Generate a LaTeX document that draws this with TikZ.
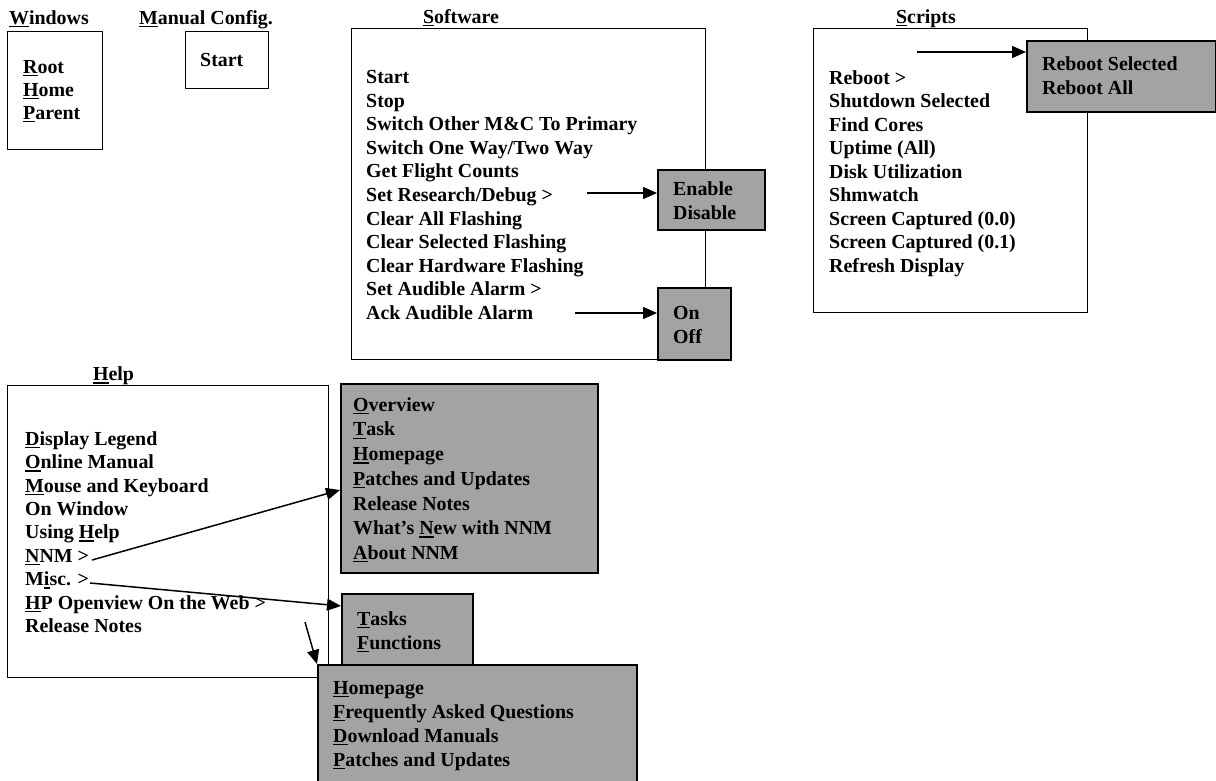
\documentclass[tikz,border=0pt]{standalone}
\usepackage{fontspec}
\setmainfont{Liberation Serif}
\usetikzlibrary{arrows.meta}
\usetikzlibrary{positioning}
\newcommand{\hotkey}[1]{\sbox0{#1}\rlap{\rule[-3pt]{\wd0}{1.4pt}}\usebox0}
\tikzset{
	menu/.style={
		draw,
		rectangle,
		line width=1.4pt,
		anchor=north west,
		inner sep=0pt,
		fill=white
	},
	submenu/.style={
		menu,
		fill=black!36,
		line width=2pt
	},
	entries/.style={
		anchor=north west,
		inner sep=0pt,
		align=left,
		font=\fontsize{19.9}{#1}\selectfont\bfseries
	},
	entries/.default=23.5,
	heading/.style={
		anchor=base,
		inner sep=0pt,
		font=\fontsize{19.9}{23.5}\selectfont\bfseries
	},
	pointer/.style={
		line width=1.5pt,
		-{Triangle[length=14pt,width=12pt]}
	},
}

\begin{document}
\begin{tikzpicture}[x=1pt,y=-1pt]
\useasboundingbox (0,0) rectangle (1216,781);
\clip (0,0) rectangle (1216,781);
% windows
\node[heading] (wintitle) at (49,24.5) {\hotkey{W}indows};
\node[menu, minimum width=95pt, minimum height=118pt] (winbox) at (7,31) {};
\node[entries=23] (winlist) at (23,60.2) {\hotkey{R}oot\\ \hotkey{H}ome\\ \hotkey{P}arent};
% manual config
\node[heading] (mantitle) at (206,24.5) {\hotkey{M}anual Config.};
\node[menu, minimum width=83pt, minimum height=57pt] (manbox) at (185,31) {};
\node[entries] (manlist) at (200,53.2) {Start};
% software
\node[heading] (softtitle) at (461,23.5) {\hotkey{S}oftware};
\node[menu, minimum width=354pt, minimum height=331pt] (softbox) at (351,28) {};
\node[entries=23.6] (softlist) at (366,70.2) {Start\\ Stop\\ Switch Other M\&C To Primary\\
 Switch One Way/Two Way\\ Get Flight Counts\\ Set Research/Debug >\\ Clear All Flashing\\
 Clear Selected Flashing\\ Clear Hardware Flashing\\ Set Audible Alarm >\\ Ack Audible Alarm};
\node[submenu, minimum width=107pt, minimum height=60pt] (resbox) at (657,169) {};
\node[entries=24] (reslist) at (673,181.2) {Enable\\ Disable};
\node[submenu, minimum width=73pt, minimum height=72pt] (alarmbox) at (657,287) {};
\node[entries=24] (alarmlist) at (673,306.2) {On\\ Off};
\coordinate (resfrom) at (587,193);
\coordinate (ackfrom) at (575,313);
\draw[pointer] (resfrom) -- (resfrom -| resbox.west);
\draw[pointer] (ackfrom) -- (ackfrom -| alarmbox.west);
% scripts
\node[heading] (scripttitle) at (926,23.5) {\hotkey{S}cripts};
\node[menu, minimum width=274pt, minimum height=284pt] (scriptbox) at (813,28) {};
\node[entries] (scriptlist) at (829,70.2) {Reboot >\\ Shutdown Selected\\ Find Cores\\
 Uptime (All)\\ Disk Utilization\\ Shmwatch\\ Screen Captured (0.0)\\
 Screen Captured (0.1)\\ Refresh Display};
\node[submenu, minimum width=189pt, minimum height=71pt] (rebootbox) at (1026,40) {};
\node[entries=24] (rebootlist) at (1042,56.2) {Reboot Selected\\ Reboot All};
\coordinate (rebootfrom) at (917,52);
\draw[pointer] (rebootfrom) -- (rebootfrom -| rebootbox.west);
% help
\node[heading] (helptitle) at (113.5,380.5) {\hotkey{H}elp};
\node[menu, minimum width=321pt, minimum height=292pt] (helpbox) at (7,385) {};
\node[entries=23.4] (helplist) at (25,431.2) {\hotkey{D}isplay Legend\\ \hotkey{O}nline Manual\\
 \hotkey{M}ouse and Keyboard\\ On Window\\ Using \hotkey{H}elp\\ \hotkey{N}NM >\\ M\hotkey{i}sc. >\\
 \hotkey{H}P Openview On the Web >\\ Release Notes};
\node[submenu, minimum width=257pt, minimum height=189pt] (nnmbox) at (340,383) {};
\node[entries=24.7] (nnmlist) at (353,397.2) {\hotkey{O}verview\\ \hotkey{T}ask\\ \hotkey{H}omepage\\
 \hotkey{P}atches and Updates\\ Release Notes\\ What’s \hotkey{N}ew with NNM\\ \hotkey{A}bout NNM};
\node[submenu, minimum width=131pt, minimum height=87pt] (miscbox) at (341,593) {};
\node[entries=24] (misclist) at (357,611.2) {\hotkey{T}asks\\ \hotkey{F}unctions};
\node[submenu, minimum width=319pt, minimum height=140pt] (webbox) at (317,664) {};
\node[entries=24] (weblist) at (333,681.2) {\hotkey{H}omepage\\ \hotkey{F}requently Asked Questions\\
 \hotkey{D}ownload Manuals\\ \hotkey{P}atches and Updates};
\coordinate (nnmfrom) at (92,560);
\coordinate (miscfrom) at (90,583);
\coordinate (webfrom) at (305,622);
\draw[pointer] (nnmfrom) -- (nnmbox.west |- 0,490);
\draw[pointer] (miscfrom) -- (miscbox.west |- 0,606);
\draw[pointer] (webfrom) -- (webbox.north west);
\end{tikzpicture}
\end{document}
